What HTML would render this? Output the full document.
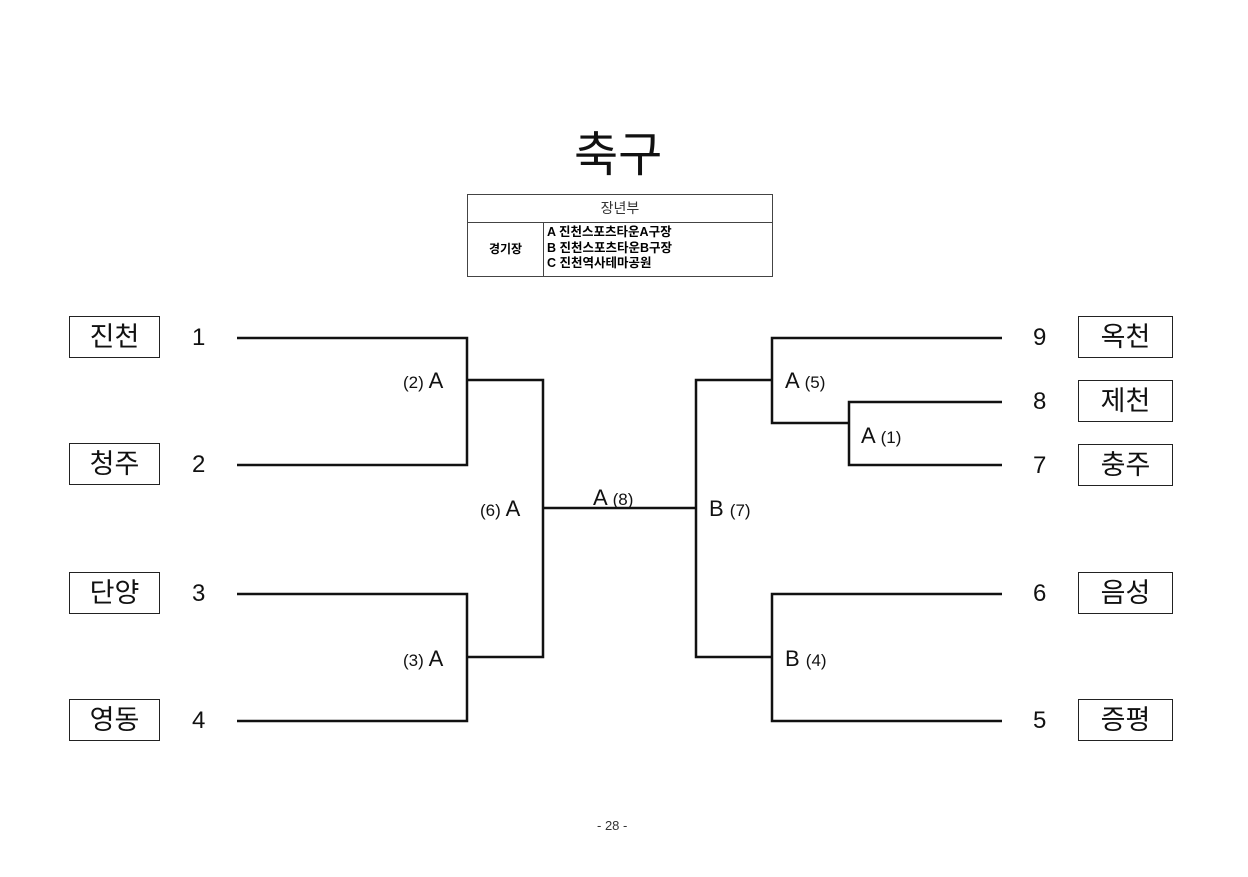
<!DOCTYPE html>
<html><head><meta charset="utf-8"><style>
body{margin:0;width:1248px;height:877px;background:#fff;position:relative;font-family:"Liberation Sans","Noto Sans CJK KR",sans-serif;overflow:hidden}
.a{position:absolute}
.box{position:absolute;border:1.5px solid #222;width:89px;height:40px;font-size:27px;text-align:center;line-height:40px;color:#111}
.r{width:93px}
.n{position:absolute;font-size:24px;color:#111;line-height:28px}
.l{position:absolute;font-size:22px;color:#111;line-height:28px;white-space:nowrap}
.l small{font-size:17px}
</style></head><body>
<div class="a" style="left:574px;top:127px;font-size:48px;line-height:58px;color:#111">축구</div>
<div class="a" style="left:467px;top:194px;width:304px;height:81px;border:1px solid #444;font-size:11px">
 <div style="height:27px;border-bottom:1px solid #444;text-align:center;line-height:27px;font-size:14px;color:#333">장년부</div>
 <div style="position:absolute;left:0;top:28px;width:75px;height:53px;border-right:1px solid #444;text-align:center;line-height:53px;font-weight:bold;font-size:12px">경기장</div>
 <div style="position:absolute;left:79px;top:30px;line-height:15.5px;font-weight:bold;font-size:12.5px">A 진천스포츠타운A구장<br>B 진천스포츠타운B구장<br>C 진천역사테마공원</div>
</div>
<div class="box" style="left:69px;top:316px">진천</div>
<div class="box" style="left:69px;top:443px">청주</div>
<div class="box" style="left:69px;top:572px">단양</div>
<div class="box" style="left:69px;top:699px">영동</div>
<div class="box r" style="left:1078px;top:316px">옥천</div>
<div class="box r" style="left:1078px;top:380px">제천</div>
<div class="box r" style="left:1078px;top:444px">충주</div>
<div class="box r" style="left:1078px;top:572px">음성</div>
<div class="box r" style="left:1078px;top:699px">증평</div>
<div class="n" style="left:192px;top:324px">1</div>
<div class="n" style="left:192px;top:451px">2</div>
<div class="n" style="left:192px;top:580px">3</div>
<div class="n" style="left:192px;top:707px">4</div>
<div class="n" style="left:1033px;top:324px">9</div>
<div class="n" style="left:1033px;top:388px">8</div>
<div class="n" style="left:1033px;top:452px">7</div>
<div class="n" style="left:1033px;top:580px">6</div>
<div class="n" style="left:1033px;top:707px">5</div>
<div class="l" style="left:403px;top:367px"><small>(2)</small> A</div>
<div class="l" style="left:403px;top:645px"><small>(3)</small> A</div>
<div class="l" style="left:480px;top:495px"><small>(6)</small> A</div>
<div class="l" style="left:593px;top:484px">A <small>(8)</small></div>
<div class="l" style="left:709px;top:495px">B <small>(7)</small></div>
<div class="l" style="left:785px;top:367px">A <small>(5)</small></div>
<div class="l" style="left:861px;top:422px">A <small>(1)</small></div>
<div class="l" style="left:785px;top:645px">B <small>(4)</small></div>
<svg class="a" style="left:0;top:0" width="1248" height="877"><g stroke="#111" stroke-width="2.5" fill="none">
<polyline points="237,338 467,338 467,465 237,465"/>
<polyline points="237,594 467,594 467,721 237,721"/>
<polyline points="467,380 543,380 543,657 467,657"/>
<line x1="543" y1="508" x2="696" y2="508"/>
<polyline points="772,380 696,380 696,657 772,657"/>
<polyline points="1002,338 772,338 772,423 849,423"/>
<polyline points="1002,402 849,402 849,465 1002,465"/>
<polyline points="1002,594 772,594 772,721 1002,721"/>
</g></svg>
<div class="a" style="left:597px;top:818px;font-size:13px;color:#333">- 28 -</div>
</body></html>
